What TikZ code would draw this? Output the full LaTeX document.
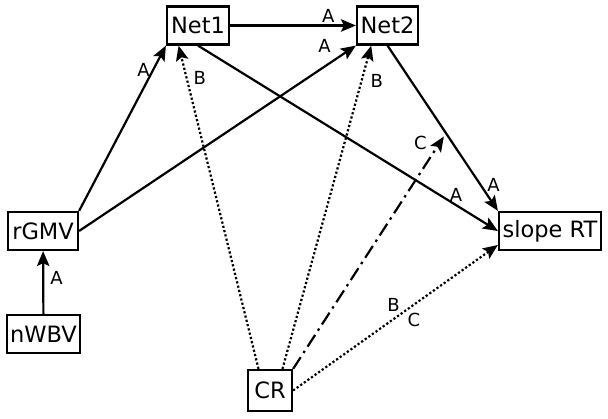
\documentclass[tikz,border=0pt]{standalone}
\usepackage{fontspec}
\setmainfont{DejaVu Sans}
\usetikzlibrary{calc,positioning,arrows.meta}

\tikzset{
	varbox/.style={draw,line width=2.2pt,minimum height=38pt,inner xsep=3pt,inner ysep=0pt,font=\fontsize{22.5}{26}\selectfont},
	pathA/.style={line width=2.2pt,-{Stealth[length=15pt,width=12.5pt,inset=3pt]}},
	pathB/.style={pathA,dash pattern=on 2.2pt off 2.2pt},
	pathC/.style={pathA,dash pattern=on 14pt off 5pt on 2.5pt off 5pt},
	lbl/.style={font=\fontsize{18}{22}\selectfont,inner sep=2pt},
}

\begin{document}
\begin{tikzpicture}[black,x=1pt,y=-1pt]
				\useasboundingbox (0, 0) rectangle (608, 419);
				% Variables
				\node[varbox,minimum width=62pt] (Net1) at (198, 25.5) {Net1};
				\node[varbox,minimum width=61pt] (Net2) at (387.5, 25.5) {Net2};
				\node[varbox,minimum width=70pt] (rGMV) at (43, 231) {rGMV};
				\node[varbox,minimum width=73pt] (nWBV) at (43.5, 334) {nWBV};
				\node[varbox,minimum width=44pt,minimum height=41pt] (CR) at (270, 390.5) {CR};
				\node[varbox,minimum width=102pt] (slopeRT) at (550, 231) {slope RT};

				% Point on Net2 -> slope RT
				\coordinate (RTmod) at ($(Net2.south)!0.53!(slopeRT.north west)$);

				% Paths A
				\draw[pathA] (rGMV.north east) -- (Net1.south west)
					node[lbl,pos=0.85,left] {A};
				\draw[pathA] (rGMV.east) -- (Net2.south west)
					node[lbl,pos=0.93,above left=4pt] {A};
				\draw[pathA] (nWBV) -- (rGMV)
					node[lbl,pos=0.57,right=4pt] {A};
				\draw[pathA] (Net1) -- (Net2)
					node[lbl,pos=0.78,above] {A};
				\draw[pathA] (Net1.south) -- (slopeRT.west)
					node[lbl,pos=0.86,above] {A};
				\draw[pathA] (Net2.south) -- (slopeRT.north west)
					node[lbl,pos=0.84,right=4pt] {A};

				% Paths B, C
				\draw[pathB] (CR.118) -- (Net1.226)
					node[lbl,pos=0.9,right=4pt] {B};
				\draw[pathB] (CR.60) -- (Net2.231)
					node[lbl,pos=0.89,right=6pt] {B};
				\draw[pathB] (CR.east) -- (slopeRT.195)
					node[lbl,pos=0.49,above=5pt] {B}
					node[lbl,pos=0.59,below=5pt] {C};
				\draw[pathC,shorten >=4pt] (CR.north east) -- (RTmod)
					node[lbl,pos=0.96,left=10pt] {C};
			\end{tikzpicture}
\end{document}
